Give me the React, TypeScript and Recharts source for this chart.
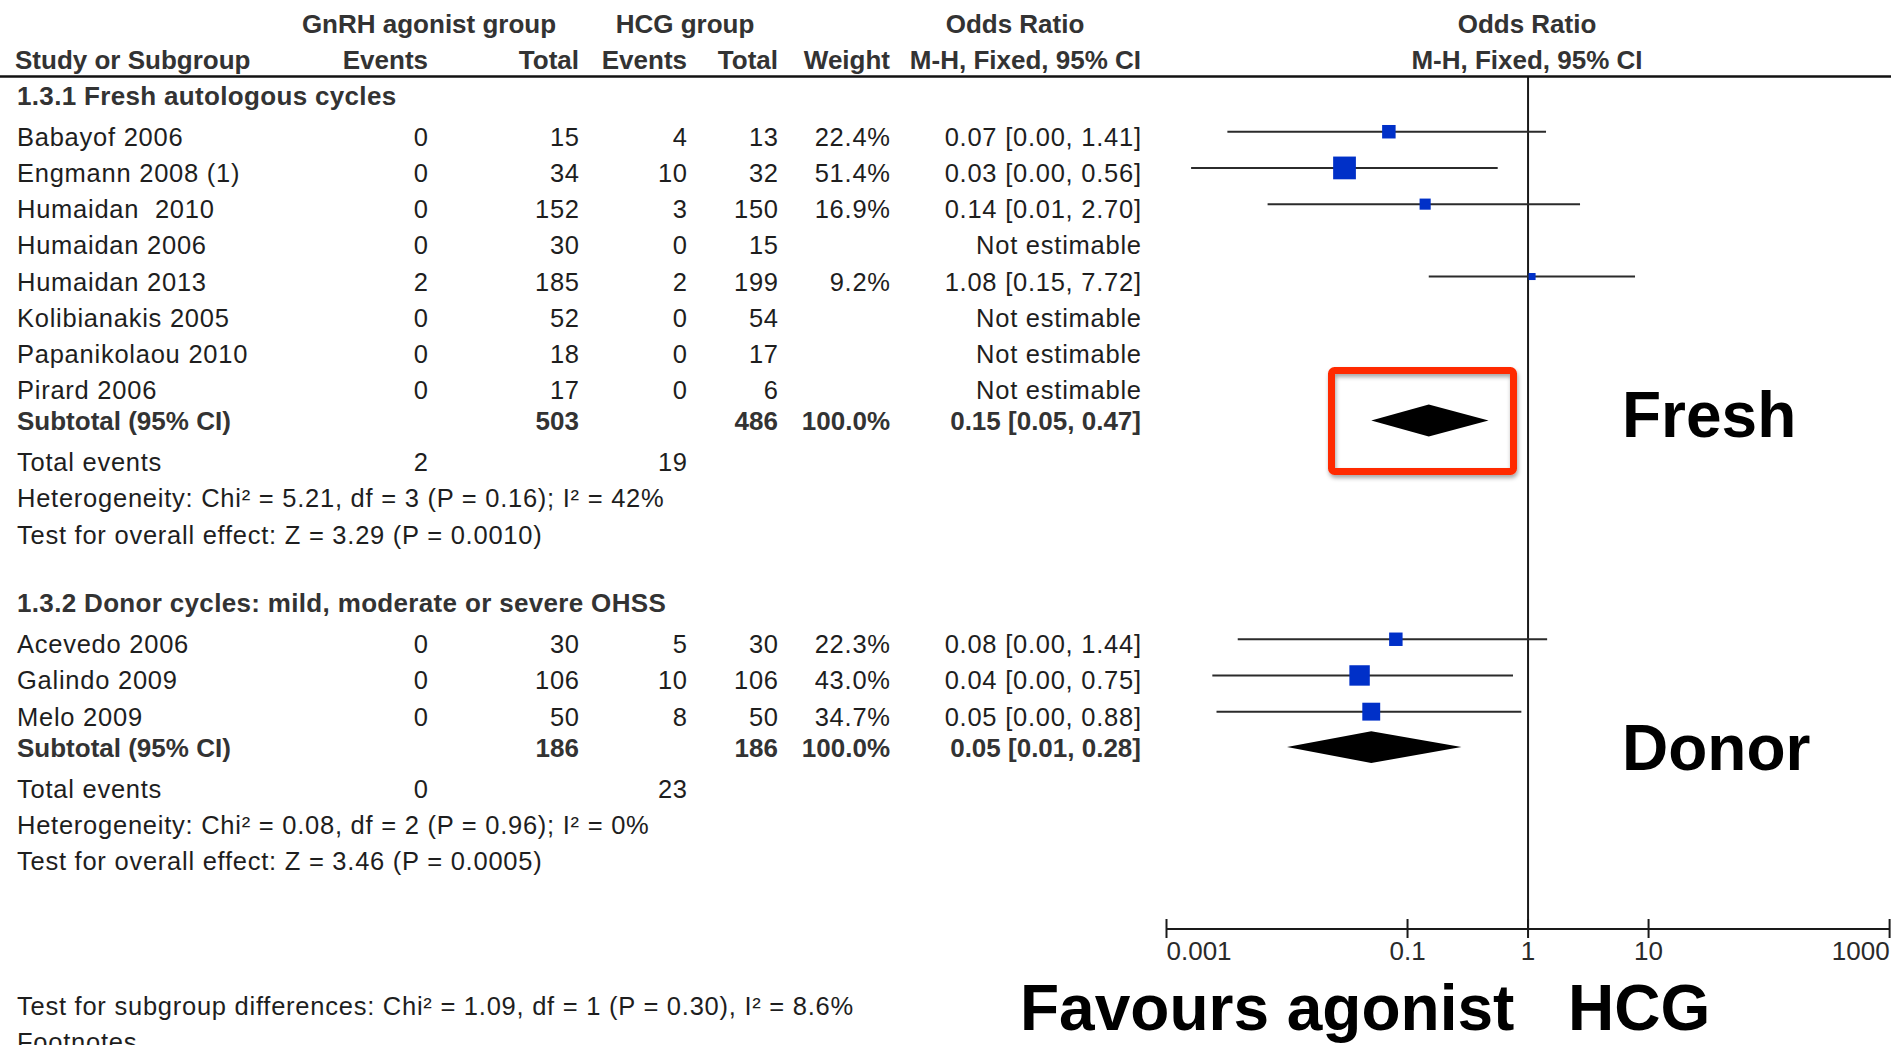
import React from "react";
import { ComposedChart, XAxis, YAxis, Scatter, ReferenceLine, ReferenceArea } from "recharts";

// ---- data ----
const freshTitle = "1.3.1 Fresh autologous cycles";
const freshStudies = ["Babayof 2006", "Engmann 2008 (1)", "Humaidan  2010", "Humaidan 2006", "Humaidan 2013", "Kolibianakis 2005", "Papanikolaou 2010", "Pirard 2006"];
const freshAgonistEvents = [0, 0, 0, 0, 2, 0, 0, 0];
const freshAgonistTotal = [15, 34, 152, 30, 185, 52, 18, 17];
const freshHcgEvents = [4, 10, 3, 0, 2, 0, 0, 0];
const freshHcgTotal = [13, 32, 150, 15, 199, 54, 17, 6];
const freshWeight = [22.4, 51.4, 16.9, null, 9.2, null, null, null];
const freshOR = [0.07, 0.03, 0.14, null, 1.08, null, null, null];
const freshLow = [0.0032, 0.0016, 0.0069, null, 0.15, null, null, null];
const freshHigh = [1.41, 0.56, 2.7, null, 7.72, null, null, null];
const freshSubtotal = { agonistTotal: 503, hcgTotal: 486, or: 0.15, low: 0.05, high: 0.47, agonistEvents: 2, hcgEvents: 19 };
const freshHet = "Heterogeneity: Chi² = 5.21, df = 3 (P = 0.16); I² = 42%";
const freshTest = "Test for overall effect: Z = 3.29 (P = 0.0010)";

const donorTitle = "1.3.2 Donor cycles: mild, moderate or severe OHSS";
const donorStudies = ["Acevedo 2006", "Galindo 2009", "Melo 2009"];
const donorAgonistEvents = [0, 0, 0];
const donorAgonistTotal = [30, 106, 50];
const donorHcgEvents = [5, 10, 8];
const donorHcgTotal = [30, 106, 50];
const donorWeight = [22.3, 43.0, 34.7];
const donorOR = [0.08, 0.04, 0.05];
const donorLow = [0.0039, 0.0024, 0.0026];
const donorHigh = [1.44, 0.75, 0.88];
const donorSubtotal = { agonistTotal: 186, hcgTotal: 186, or: 0.05, low: 0.01, high: 0.28, agonistEvents: 0, hcgEvents: 23 };
const donorHet = "Heterogeneity: Chi² = 0.08, df = 2 (P = 0.96); I² = 0%";
const donorTest = "Test for overall effect: Z = 3.46 (P = 0.0005)";

const subgroupTest = "Test for subgroup differences: Chi² = 1.09, df = 1 (P = 0.30), I² = 8.6%";
const xTicks = [0.001, 0.1, 1, 10, 1000];

// ---- layout ----
const W = 1891;
const H = 1045;
const FONT = '"Liberation Sans", Arial, sans-serif';
const PLOT_TOP = 77;
const PLOT_BOTTOM = 929;
const AX_LEFT = 1166.5;
const AX_RIGHT = 1889.6;
const XAXIS_H = 40;
const ROW = 36.2;
const Y_MAX = (PLOT_BOTTOM - PLOT_TOP) / ROW;
const COL = { name: 17, evA: 428, totA: 579, evB: 687, totB: 778, weight: 890, or: 1141 };

const fmtCI = (o: number, l: number, h: number) => `${o.toFixed(2)} [${l.toFixed(2)}, ${h.toFixed(2)}]`;

type Cell = { x: number; anchor: "start" | "end" | "middle"; text: string };
type TextRow = { u: number; bold: boolean; title?: boolean; cells: Cell[] };

const textRows: TextRow[] = [];
const studyMarks: { x: number; y: number; lo: number; hi: number; w: number }[] = [];
const diamonds: { or: number; lo: number; hi: number; y: number }[] = [];

let u = 0.52;
function addGroup(title: string, names: string[], aEv: number[], aTot: number[], bEv: number[], bTot: number[],
  wt: (number | null)[], or: (number | null)[], lo: (number | null)[], hi: (number | null)[], sub: any, het: string, test: string) {
  textRows.push({ u, bold: true, title: true, cells: [{ x: COL.name, anchor: "start", text: title }] });
  u += 1.13;
  names.forEach((n, i) => {
    const o = or[i];
    textRows.push({
      u, bold: false, cells: [
        { x: COL.name, anchor: "start", text: n },
        { x: COL.evA, anchor: "end", text: String(aEv[i]) },
        { x: COL.totA, anchor: "end", text: String(aTot[i]) },
        { x: COL.evB, anchor: "end", text: String(bEv[i]) },
        { x: COL.totB, anchor: "end", text: String(bTot[i]) },
        { x: COL.weight, anchor: "end", text: wt[i] != null ? `${(wt[i] as number).toFixed(1)}%` : "" },
        { x: COL.or, anchor: "end", text: o != null ? fmtCI(o, lo[i] as number, hi[i] as number) : "Not estimable" },
      ],
    });
    if (o != null) studyMarks.push({ x: o, y: u - 5 / ROW, lo: lo[i] as number, hi: hi[i] as number, w: wt[i] as number });
    u += 1;
  });
  u -= 0.14;
  textRows.push({
    u, bold: true, cells: [
      { x: COL.name, anchor: "start", text: "Subtotal (95% CI)" },
      { x: COL.totA, anchor: "end", text: String(sub.agonistTotal) },
      { x: COL.totB, anchor: "end", text: String(sub.hcgTotal) },
      { x: COL.weight, anchor: "end", text: "100.0%" },
      { x: COL.or, anchor: "end", text: fmtCI(sub.or, sub.low, sub.high) },
    ],
  });
  diamonds.push({ or: sub.or, lo: sub.low, hi: sub.high, y: u - 0.02 });
  u += 1.13;
  textRows.push({
    u, bold: false, cells: [
      { x: COL.name, anchor: "start", text: "Total events" },
      { x: COL.evA, anchor: "end", text: String(sub.agonistEvents) },
      { x: COL.evB, anchor: "end", text: String(sub.hcgEvents) },
    ],
  });
  u += 1;
  textRows.push({ u, bold: false, cells: [{ x: COL.name, anchor: "start", text: het }] });
  u += 1;
  textRows.push({ u, bold: false, cells: [{ x: COL.name, anchor: "start", text: test }] });
}

addGroup(freshTitle, freshStudies, freshAgonistEvents, freshAgonistTotal, freshHcgEvents, freshHcgTotal,
  freshWeight, freshOR, freshLow, freshHigh, freshSubtotal, freshHet, freshTest);
u += 1.9;
addGroup(donorTitle, donorStudies, donorAgonistEvents, donorAgonistTotal, donorHcgEvents, donorHcgTotal,
  donorWeight, donorOR, donorLow, donorHigh, donorSubtotal, donorHet, donorTest);
u += 4;
textRows.push({ u, bold: false, cells: [{ x: COL.name, anchor: "start", text: subgroupTest }] });
u += 1;
textRows.push({ u, bold: false, cells: [{ x: COL.name, anchor: "start", text: "Footnotes" }] });

const py = (v: number) => PLOT_TOP + v * ROW;

const Square = (props: any) => {
  const { cx, cy, payload } = props;
  const s = 3.8 * Math.sqrt(payload.w) - 4.5;
  return <rect x={cx - s / 2} y={cy - s / 2} width={s} height={s} fill="#0030c8" />;
};

const makeDiamond = (d: { or: number; lo: number; hi: number }) => (props: any) => {
  const { x, y, width, height } = props;
  const t = (Math.log10(d.or) - Math.log10(d.lo)) / (Math.log10(d.hi) - Math.log10(d.lo));
  const mx = x + t * width;
  const my = y + height / 2;
  return <polygon points={`${x},${my} ${mx},${y} ${x + width},${my} ${mx},${y + height}`} fill="#000" />;
};

const AxisTick = (props: any) => {
  const { x, y, payload, index } = props;
  const anchor = index === 0 ? "start" : index === xTicks.length - 1 ? "end" : "middle";
  return (
    <g>
      <line x1={x} x2={x} y1={y - 10} y2={y + 9} stroke="#1a1a1a" strokeWidth={2} />
      <text x={x} y={y + 31} textAnchor={anchor} fontFamily={FONT} fontSize={26} fill="#2a2a2a">
        {String(payload.value)}
      </text>
    </g>
  );
};

export default function App() {
  return (
    <div style={{ position: "absolute", left: 0, top: 0, width: W, height: H, background: "#fff", overflow: "hidden" }}>
      <div style={{ position: "absolute", left: 0, top: 0 }}>
        <ComposedChart
          width={W}
          height={H}
          margin={{ top: PLOT_TOP, right: W - AX_RIGHT, bottom: H - PLOT_BOTTOM - XAXIS_H, left: AX_LEFT }}
        >
          <XAxis
            type="number"
            dataKey="x"
            scale="log"
            domain={[0.001, 1000]}
            ticks={xTicks}
            interval={0}
            allowDataOverflow
            height={XAXIS_H}
            axisLine={{ stroke: "#1a1a1a", strokeWidth: 2 }}
            tickLine={false}
            tickSize={0}
            tickMargin={0}
            tick={<AxisTick />}
          />
          <YAxis type="number" dataKey="y" domain={[0, Y_MAX]} reversed hide allowDataOverflow />
          <ReferenceLine x={1} stroke="#1a1a1a" strokeWidth={2} />
          {studyMarks.map((s, i) => (
            <ReferenceLine
              key={`ci-${i}`}
              segment={[{ x: s.lo, y: s.y }, { x: s.hi, y: s.y }]}
              stroke="#2b2b2b"
              strokeWidth={2}
            />
          ))}
          {diamonds.map((d, i) => (
            <ReferenceArea
              key={`dm-${i}`}
              x1={d.lo}
              x2={d.hi}
              y1={d.y - 0.44}
              y2={d.y + 0.44}
              shape={makeDiamond(d)}
            />
          ))}
          <Scatter data={studyMarks} shape={Square} isAnimationActive={false} />
        </ComposedChart>
      </div>
      <svg
        width={W}
        height={H}
        style={{ position: "absolute", left: 0, top: 0, pointerEvents: "none" }}
        fontFamily={FONT}
      >
        <defs>
          <filter id="shadow" x="-10%" y="-10%" width="130%" height="140%">
            <feDropShadow dx="1" dy="3" stdDeviation="2" floodColor="#000" floodOpacity="0.35" />
          </filter>
        </defs>
        {/* header */}
        <g fontWeight="bold" fontSize={26} fill="#333">
          <text x={429} y={33} textAnchor="middle">GnRH agonist group</text>
          <text x={685} y={33} textAnchor="middle">HCG group</text>
          <text x={1015} y={33} textAnchor="middle">Odds Ratio</text>
          <text x={1527} y={33} textAnchor="middle">Odds Ratio</text>
          <text x={15} y={69}>Study or Subgroup</text>
          <text x={COL.evA} y={69} textAnchor="end">Events</text>
          <text x={COL.totA} y={69} textAnchor="end">Total</text>
          <text x={COL.evB} y={69} textAnchor="end">Events</text>
          <text x={COL.totB} y={69} textAnchor="end">Total</text>
          <text x={COL.weight} y={69} textAnchor="end">Weight</text>
          <text x={COL.or} y={69} textAnchor="end">M-H, Fixed, 95% CI</text>
          <text x={1527} y={69} textAnchor="middle">M-H, Fixed, 95% CI</text>
        </g>
        <line x1={0} x2={W} y1={76.5} y2={76.5} stroke="#111" strokeWidth={2.5} />
        {textRows.map((r, i) => (
          <g
            key={i}
            fontWeight={r.bold ? "bold" : "normal"}
            fontSize={r.bold ? 26 : 25.5}
            fill={r.bold ? "#333" : "#1e1e1e"}
            letterSpacing={r.title ? 0.33 : r.bold ? 0 : 0.75}
          >
            {r.cells.map((c, j) => (
              <text
                key={j}
                x={c.anchor === "end" && !r.bold ? c.x + 0.75 : c.x}
                y={py(r.u) + 9}
                textAnchor={c.anchor}
                style={{ whiteSpace: "pre" }}
              >
                {c.text}
              </text>
            ))}
          </g>
        ))}
        {/* annotations */}
        <rect x={1331.5} y={370.5} width={182} height={101} rx={3} fill="none" stroke="#ff2a00" strokeWidth={7} filter="url(#shadow)" />
        <g fontWeight="bold" fontSize={64} fill="#000">
          <text x={1622} y={437}>Fresh</text>
          <text x={1622} y={770}>Donor</text>
          <text x={1020} y={1030}>Favours agonist</text>
          <text x={1568} y={1030}>HCG</text>
        </g>
      </svg>
    </div>
  );
}
